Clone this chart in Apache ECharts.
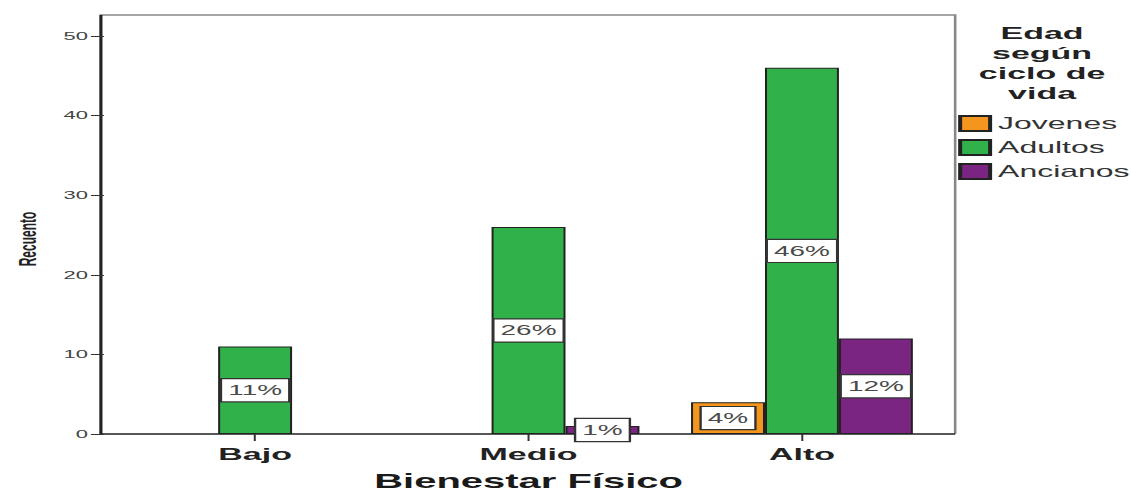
<!DOCTYPE html>
<html>
<head>
<meta charset="utf-8">
<script src="https://cdn.jsdelivr.net/npm/echarts@6/dist/echarts.min.js"></script>
<style>
  html, body { margin: 0; padding: 0; background: #ffffff; overflow: hidden; }
  #wrap { width: 1131px; height: 498px; overflow: hidden; }
  #chart { width: 566px; height: 498px; transform: scaleX(1.998233); transform-origin: 0 0; }
</style>
</head>
<body>
<div id="wrap"><div id="chart"></div></div>
<script>
// ---- data ----
const categories = ['Bajo', 'Medio', 'Alto'];
const seriesNames = ['Jovenes', 'Adultos', 'Ancianos'];
const jovenes  = [0, 0, 4];
const adultos  = [11, 26, 46];
const ancianos = [0, 1, 12];
const yTicks = [0, 10, 20, 30, 40, 50];
const legendTitle = ['Edad', 'según', 'ciclo de', 'vida'];
const xTitle = 'Bienestar Físico';
const yTitle = 'Recuento';

const colors = ['#F4961E', '#31B14A', '#7B2583'];
const FONT = "'Liberation Sans', Arial, sans-serif";
const total = [...jovenes, ...adultos, ...ancianos].reduce((a, b) => a + b, 0);

const chart = echarts.init(document.getElementById('chart'), null, { renderer: 'svg' });

function makeSeries(name, values, color) {
  return {
    name: name,
    type: 'bar',
    barWidth: 37,
    barGap: '0%',
    itemStyle: { color: color, borderColor: '#222', borderWidth: 1 },
    label: {
      show: true,
      position: 'inside',
      formatter: p => Math.round(p.value / total * 100) + '%',
      fontFamily: FONT,
      fontSize: 14,
      color: '#4a4a4a',
      backgroundColor: '#ffffff',
      borderColor: '#333',
      borderWidth: 1.2,
      padding: [4, 3, 4, 3]
    },
    // empty cells (count 0) draw no bar, as in the reference
    data: values.map(v => (v > 0 ? v : '-'))
  };
}

const option = {
  backgroundColor: '#ffffff',
  animation: false,
  grid: { left: 57.75, right: 96.25, top: 36, bottom: 64, containLabel: false },
  xAxis: {
    type: 'category',
    data: categories,
    axisLine: { show: false },
    axisTick: { show: true, alignWithLabel: true, length: 7, lineStyle: { color: '#333', width: 1 } },
    axisLabel: { fontFamily: FONT, fontSize: 17, fontWeight: 'bold', color: '#222', margin: 12 },
    name: xTitle,
    nameLocation: 'middle',
    nameGap: 37,
    nameTextStyle: { fontFamily: FONT, fontSize: 20, fontWeight: 'bold', color: '#1a1a1a' }
  },
  yAxis: {
    type: 'value',
    min: yTicks[0],
    max: yTicks[yTicks.length - 1],
    interval: yTicks[1] - yTicks[0],
    offset: 7.25,
    axisLine: { show: false },
    axisTick: { show: true, length: 6.5, lineStyle: { color: '#333', width: 1 } },
    axisLabel: { fontFamily: FONT, fontSize: 11, color: '#444', margin: 8 },
    splitLine: { show: false },
    name: yTitle,
    nameLocation: 'middle',
    nameGap: 32,
    nameTextStyle: { fontFamily: FONT, fontSize: 12, fontWeight: 'bold', color: '#222', padding: [0, 8, 0, 0] }
  },
  legend: {
    orient: 'vertical',
    left: 479.5,
    top: 115,
    padding: 0,
    itemWidth: 15,
    itemHeight: 15,
    itemGap: 7,
    icon: 'rect',
    textStyle: { fontFamily: FONT, fontSize: 16, color: '#333', padding: [0, 0, 0, -1] },
    data: seriesNames
  },
  graphic: [
    {
      type: 'polyline',
      silent: true,
      shape: { points: [[50.5, 434], [50.5, 15], [478, 15], [478, 434]] },
      style: { stroke: '#888', lineWidth: 1.3, fill: null }
    },
    {
      type: 'polyline',
      silent: true,
      shape: { points: [[50.5, 15], [50.5, 434], [478, 434]] },
      style: { stroke: '#222', lineWidth: 1.5, fill: null }
    },
    {
      type: 'text',
      silent: true,
      x: 521.5,
      y: 23,
      style: {
        text: legendTitle.join('\n'),
        textAlign: 'center',
        verticalAlign: 'top',
        fontFamily: FONT,
        fontSize: 17,
        fontWeight: 'bold',
        lineHeight: 20,
        fill: '#222'
      }
    }
  ],
  series: [
    makeSeries(seriesNames[0], jovenes, colors[0]),
    makeSeries(seriesNames[1], adultos, colors[1]),
    makeSeries(seriesNames[2], ancianos, colors[2])
  ]
};

chart.setOption(option);
</script>
</body>
</html>
